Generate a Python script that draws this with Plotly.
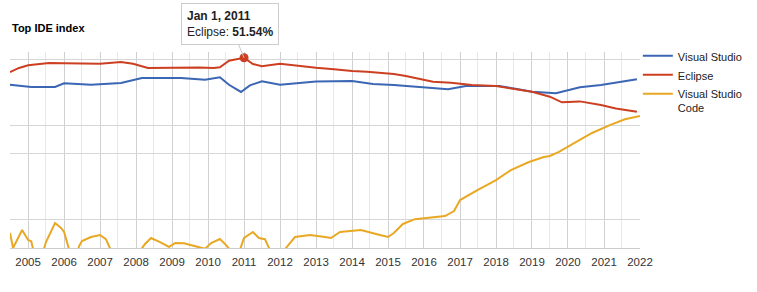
import math
import plotly.graph_objects as go

# ---- data (share of searches, %) ----
eclipse_dates = ["2004-07", "2004-10", "2005-01", "2005-08", "2006-01", "2006-07", "2007-01",
                 "2007-08", "2007-12", "2008-05", "2008-10", "2009-04", "2009-10", "2010-03",
                 "2010-05", "2010-08", "2011-01", "2011-04", "2011-07", "2012-01", "2012-07",
                 "2013-01", "2013-07", "2014-01", "2014-06", "2015-03", "2015-07", "2015-12",
                 "2016-04", "2016-10", "2017-05", "2018-01", "2018-06", "2019-01", "2019-07",
                 "2019-11", "2020-05", "2020-12", "2021-05", "2021-12"]
eclipse_vals = [36.4, 40.2, 42.9, 45.4, 45.0, 44.8, 44.6,
                46.5, 44.6, 40.2, 40.4, 40.9, 40.6, 40.2,
                40.9, 48.0, 51.54, 44.3, 41.9, 44.6, 42.2,
                40.5, 39.0, 37.3, 36.7, 34.7, 33.0, 30.5,
                28.8, 28.1, 26.5, 25.9, 24.5, 22.5, 19.95,
                17.4, 17.8, 16.3, 15.0, 13.8]

vs_dates = ["2004-07", "2005-02", "2005-10", "2006-01", "2006-10", "2007-08", "2008-03",
            "2008-10", "2009-04", "2009-12", "2010-05", "2010-08", "2010-12", "2011-03",
            "2011-07", "2012-01", "2012-07", "2013-01", "2014-01", "2014-08", "2015-03",
            "2015-10", "2016-09", "2017-03", "2018-02", "2018-08", "2019-01", "2019-09",
            "2020-05", "2020-12", "2021-06", "2021-12"]
vs_vals = [26.7, 25.3, 25.3, 27.7, 26.7, 27.9, 31.5,
           31.7, 31.5, 30.2, 32.0, 26.7, 22.4, 26.3,
           29.0, 26.7, 27.6, 28.9, 29.2, 27.2, 26.6,
           25.5, 23.9, 25.9, 25.9, 24.1, 22.5, 21.7,
           25.1, 26.5, 28.4, 30.5]

vscode_dates = ["2004-07", "2004-08", "2004-11", "2005-01", "2005-02", "2005-03", "2005-05",
                "2005-07", "2005-10", "2005-12", "2006-01", "2006-03", "2006-05", "2006-06",
                "2006-07", "2006-10", "2007-01", "2007-03", "2007-05", "2007-09", "2008-02",
                "2008-04", "2008-06", "2008-09", "2008-12", "2009-02", "2009-05", "2009-09",
                "2009-12", "2010-02", "2010-05", "2010-07", "2010-09", "2010-11", "2011-01",
                "2011-04", "2011-06", "2011-08", "2011-10", "2012-01", "2012-03", "2012-06",
                "2012-11", "2013-04", "2013-06", "2013-09", "2014-04", "2014-09", "2015-01",
                "2015-03", "2015-06", "2015-10", "2016-04", "2016-08", "2016-11", "2017-01",
                "2017-07", "2018-01", "2018-06", "2018-12", "2019-05", "2019-07", "2019-10",
                "2020-04", "2020-09", "2021-03", "2021-08", "2022-01"]
vscode_vals = [0.72, 0.50, 0.775, 0.608, 0.59, 0.45, 0.35,
               0.578, 0.92, 0.815, 0.74, 0.45, 0.35, 0.52,
               0.593, 0.653, 0.686, 0.62, 0.45, 0.30, 0.45,
               0.551, 0.638, 0.578, 0.513, 0.565, 0.56, 0.52,
               0.49, 0.565, 0.623, 0.54, 0.45, 0.42, 0.638,
               0.738, 0.638, 0.62, 0.45, 0.40, 0.50, 0.653,
               0.686, 0.653, 0.638, 0.738, 0.775, 0.703, 0.653,
               0.72, 0.898, 1.01, 1.06, 1.09, 1.23, 1.61,
               2.06, 2.62, 3.34, 4.06, 4.59, 4.71, 5.19,
               6.62, 8.24, 10.0, 11.5, 12.5]

year_ticks = [str(y) for y in range(2005, 2023)]
grid_values = [0.5, 1, 5, 10, 50]
tooltip_date = "2011-01"

def d(s):
    return s + "-01"

C_VS = "#3a66b4"
C_EC = "#cc3f21"
C_CODE = "#e9a823"
FONT = "Arial, Liberation Sans, sans-serif"

fig = go.Figure()
fig.add_trace(go.Scatter(x=[d(s) for s in vs_dates], y=vs_vals, mode="lines",
                         name="Visual Studio", line=dict(color=C_VS, width=2)))
fig.add_trace(go.Scatter(x=[d(s) for s in eclipse_dates], y=eclipse_vals, mode="lines",
                         name="Eclipse", line=dict(color=C_EC, width=2)))
fig.add_trace(go.Scatter(x=[d(s) for s in vscode_dates], y=vscode_vals, mode="lines",
                         name="Visual Studio<br>Code", line=dict(color=C_CODE, width=2)))

ti = eclipse_dates.index(tooltip_date)
tip_val = eclipse_vals[ti]
fig.add_trace(go.Scatter(x=[d(tooltip_date)], y=[tip_val], mode="markers", showlegend=False,
                         marker=dict(color=C_EC, size=9), cliponaxis=False))

fig.add_annotation(x=d(tooltip_date), y=math.log10(tip_val), xref="x", yref="y",
                   text="<b>Jan 1, 2011</b><br>Eclipse: <b>%.2f%%</b>" % tip_val,
                   showarrow=True, arrowhead=0, arrowcolor="#c8c8c8", arrowwidth=1,
                   ax=-14, ay=-34, align="left", bgcolor="white", bordercolor="#cccccc",
                   borderwidth=1, borderpad=5, font=dict(family=FONT, size=12, color="#222"))

fig.add_annotation(x=0, y=1.122, xref="paper", yref="paper", xanchor="left", yanchor="middle",
                   text="<b>Top IDE index</b>", showarrow=False,
                   font=dict(family=FONT, size=11, color="#000"))

fig.update_layout(
    width=757, height=292,
    margin=dict(l=10, r=116, t=52, b=44),
    paper_bgcolor="white", plot_bgcolor="white",
    font=dict(family=FONT, size=11, color="#222"),
    hovermode=False,
    legend=dict(x=0.995, xanchor="left", y=1.05, yanchor="top", valign="top",
                font=dict(family=FONT, size=11, color="#222"), itemwidth=30,
                bgcolor="rgba(0,0,0,0)"),
    xaxis=dict(type="date", range=["2004-07-01", "2022-01-01"],
               tickvals=[y + "-01-01" for y in year_ticks], ticktext=year_ticks,
               showgrid=True, gridcolor="#d0d0d0", gridwidth=1,
               minor=dict(dtick="M6", tick0="2004-07-01", showgrid=True, gridcolor="#e8e8e8"),
               showline=True, linecolor="#cccccc", ticks="", zeroline=False,
               ticklabelstandoff=3,
               tickfont=dict(family=FONT, size=11.5, color="#333")),
    yaxis=dict(type="log", range=[math.log10(0.5), 1.773], tickvals=grid_values,
               showticklabels=False, showgrid=True, gridcolor="#d6d6d6", zeroline=False,
               ticks=""),
)

fig.write_html("out.html")
